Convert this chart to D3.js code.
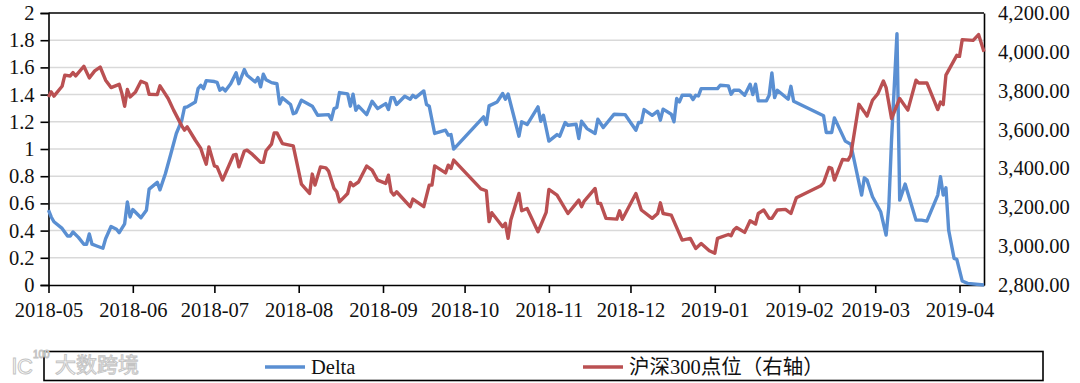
<!DOCTYPE html>
<html>
<head>
<meta charset="utf-8">
<script src="https://cdn.jsdelivr.net/npm/d3@7"></script>
<style>
  html, body { margin: 0; background: #fff; }
  svg { display: block; }
  text { font-family: "Liberation Serif", "Noto Sans CJK SC", serif; fill: #111; }
</style>
</head>
<body>
<svg id="chart" width="1080" height="383"></svg>
<script>
var startDate = "2018-05-01";
var endDay = 344;
var monthLabels = ["2018-05","2018-06","2018-07","2018-08","2018-09","2018-10","2018-11","2018-12","2019-01","2019-02","2019-03","2019-04"];
var leftTicks = [0,0.2,0.4,0.6,0.8,1,1.2,1.4,1.6,1.8,2];
var rightTicks = [2800,3000,3200,3400,3600,3800,4000,4200];
var legendNames = ["Delta","沪深300点位（右轴）"];

// days counted from startDate
var deltaDays = [0,1,2,5,7,8,9,11,13,14,15,16,18,20,21,23,25,26,28,29,30,31,32,34,36,37,40,41,43,45,47,49,50,51,54,55,56,57,58,61,62,63,64,65,67,69,70,72,73,76,77,78,79,80,82,84,85,86,89,90,91,93,97,99,103,104,105,106,107,110,111,112,113,114,117,119,121,124,125,126,127,128,131,133,134,135,138,139,140,142,146,147,148,149,160,161,162,165,167,168,169,173,174,176,180,181,182,184,187,188,190,191,194,195,196,198,201,202,204,208,212,216,217,218,219,222,224,225,226,229,230,231,232,233,236,237,238,239,240,246,247,250,251,252,254,256,258,259,260,261,264,265,266,267,268,272,273,274,285,286,288,289,293,295,299,300,301,303,306,308,309,310,312,313,315,319,321,323,327,328,329,330,331,333,334,336,338,344];
var deltaValues = [0.55,0.5,0.465,0.416,0.36,0.36,0.39,0.35,0.3,0.3,0.375,0.3,0.285,0.27,0.34,0.43,0.41,0.385,0.45,0.61,0.5,0.555,0.535,0.495,0.55,0.705,0.755,0.7,0.82,0.965,1.114,1.21,1.305,1.31,1.346,1.444,1.469,1.444,1.503,1.496,1.49,1.432,1.449,1.427,1.48,1.56,1.48,1.584,1.542,1.493,1.525,1.457,1.55,1.51,1.488,1.48,1.33,1.376,1.327,1.26,1.268,1.359,1.315,1.248,1.253,1.217,1.297,1.305,1.415,1.405,1.315,1.403,1.285,1.315,1.253,1.351,1.297,1.334,1.29,1.378,1.378,1.327,1.388,1.366,1.395,1.378,1.427,1.327,1.315,1.114,1.138,1.102,1.106,0.999,1.236,1.18,1.317,1.346,1.408,1.366,1.405,1.094,1.2,1.18,1.31,1.204,1.248,1.058,1.106,1.094,1.195,1.175,1.182,1.077,1.204,1.15,1.114,1.219,1.158,1.256,1.253,1.138,1.195,1.195,1.29,1.248,1.278,1.212,1.293,1.256,1.2,1.371,1.346,1.395,1.395,1.364,1.395,1.39,1.444,1.444,1.469,1.464,1.403,1.432,1.432,1.395,1.476,1.4,1.476,1.354,1.354,1.395,1.56,1.378,1.432,1.366,1.461,1.351,1.244,1.121,1.121,1.229,1.058,1.035,0.661,0.788,0.771,0.649,0.539,0.367,0.575,1.065,1.848,0.624,0.742,0.477,0.477,0.47,0.661,0.796,0.661,0.715,0.404,0.196,0.188,0.029,0.012,0];
var hs300Days = [0,1,2,5,6,8,9,10,13,15,17,19,21,23,26,27,28,29,30,32,34,36,37,40,41,44,46,49,50,51,54,56,57,58,59,61,62,64,68,69,70,72,73,75,78,79,80,82,83,84,86,90,93,96,97,98,100,102,103,105,106,107,110,111,112,114,117,119,121,124,125,126,127,128,133,134,138,140,141,142,146,147,148,149,159,161,162,163,167,168,169,170,173,174,176,180,183,184,187,191,195,196,197,201,202,203,205,209,210,211,216,218,222,224,225,226,229,233,236,238,240,243,245,246,250,251,252,253,256,258,260,261,263,265,266,268,271,273,275,284,285,287,288,289,292,294,295,298,300,301,303,305,307,308,310,313,316,319,320,323,327,328,329,330,334,335,336,340,342,344];
var hs300Values = [3768,3794,3772,3823,3880,3876,3893,3876,3926,3866,3902,3922,3854,3816,3833,3785,3720,3806,3768,3794,3849,3837,3782,3780,3825,3760,3700,3619,3597,3614,3545,3503,3460,3422,3511,3413,3408,3340,3468,3472,3408,3489,3494,3472,3431,3431,3491,3525,3583,3583,3528,3516,3319,3271,3371,3314,3408,3403,3386,3297,3280,3228,3271,3328,3311,3330,3412,3391,3340,3323,3365,3280,3263,3280,3203,3242,3203,3314,3314,3413,3377,3417,3400,3443,3295,3285,3126,3172,3100,3117,3040,3134,3271,3182,3194,3074,3174,3292,3263,3168,3237,3203,3232,3297,3220,3220,3143,3139,3182,3138,3271,3186,3143,3168,3223,3168,3160,3031,3040,2988,3014,2976,2963,3040,3060,3054,3083,3096,3071,3131,3114,3168,3186,3143,3143,3186,3189,3168,3249,3311,3326,3405,3400,3340,3446,3443,3468,3730,3691,3670,3751,3785,3850,3816,3657,3760,3700,3854,3840,3840,3703,3742,3729,3880,3982,3977,4063,4059,4089,4000];

var margin = {left: 48.5, right: 984, top: 13, bottom: 285};
var svg = d3.select("#chart");
var parseDay = d3.utcParse("%Y-%m-%d");
var parseMonth = d3.utcParse("%Y-%m");
var start = parseDay(startDate);

var x = d3.scaleUtc()
  .domain([start, d3.utcDay.offset(start, endDay)])
  .range([margin.left, margin.right]);
var yLeft = d3.scaleLinear().domain([0, 2]).range([margin.bottom, margin.top]);
var yRight = d3.scaleLinear().domain([2800, 4200]).range([margin.bottom, margin.top]);

/*Grid*/
svg.append("g")
  .selectAll("line")
  .data(leftTicks.filter(function(d){ return d > 0 && d < 2; }))
  .join("line")
  .attr("x1", margin.left)
  .attr("x2", margin.right)
  .attr("y1", function(d){ return yLeft(d); })
  .attr("y2", function(d){ return yLeft(d); })
  .attr("stroke", "#d9d9d9")
  .attr("stroke-width", 1.5);

/*Axes*/
var fs = "20.5px";
var xAxis = svg.append("g")
  .attr("transform", "translate(0," + margin.bottom + ")")
  .call(d3.axisBottom(x)
    .tickValues(monthLabels.map(parseMonth))
    .tickFormat(d3.utcFormat("%Y-%m"))
    .tickSize(8)
    .tickSizeOuter(0)
    .tickPadding(9));
var leftAxis = svg.append("g")
  .attr("transform", "translate(" + margin.left + ",0)")
  .call(d3.axisLeft(yLeft)
    .tickValues(leftTicks)
    .tickFormat(function(d){ return String(d); })
    .tickSize(8)
    .tickPadding(6));
var rightAxis = svg.append("g")
  .attr("transform", "translate(" + margin.right + ",0)")
  .call(d3.axisRight(yRight)
    .tickValues(rightTicks)
    .tickFormat(d3.format(",.2f"))
    .tickSize(0)
    .tickPadding(14));
[xAxis, leftAxis, rightAxis].forEach(function(a){
  a.selectAll("text").style("font-size", fs).style("font-family", null);
  a.attr("font-family", null);
  a.selectAll("path,line").attr("stroke", "#000").attr("stroke-width", 1.6);
});

// top edge of the frame
svg.append("line")
  .attr("x1", margin.left).attr("x2", margin.right)
  .attr("y1", margin.top).attr("y2", margin.top)
  .attr("stroke", "#000").attr("stroke-width", 1.6);

/*Lines*/
var deltaLine = d3.line()
  .x(function(d, i){ return x(d3.utcDay.offset(start, d)); })
  .y(function(d, i){ return yLeft(deltaValues[i]); });
var hs300Line = d3.line()
  .x(function(d, i){ return x(d3.utcDay.offset(start, d)); })
  .y(function(d, i){ return yRight(hs300Values[i]); });

svg.append("path")
  .attr("d", deltaLine(deltaDays))
  .attr("fill", "none")
  .attr("stroke", "#5a8fd2")
  .attr("stroke-width", 3.4)
  .attr("stroke-linejoin", "round");
svg.append("path")
  .attr("d", hs300Line(hs300Days))
  .attr("fill", "none")
  .attr("stroke", "#ba5052")
  .attr("stroke-width", 3.4)
  .attr("stroke-linejoin", "round");

/*Legend*/
svg.append("rect")
  .attr("x", 44).attr("y", 351.5)
  .attr("width", 999).attr("height", 29)
  .attr("fill", "#fff").attr("stroke", "#000").attr("stroke-width", 1.6);
var legendX = [265, 583];
var legendColors = ["#5a8fd2", "#ba5052"];
var legend = svg.append("g").selectAll("g")
  .data(legendNames)
  .join("g")
  .attr("transform", function(d, i){ return "translate(" + legendX[i] + ",367)"; });
legend.append("line")
  .attr("x2", 40)
  .attr("stroke", function(d, i){ return legendColors[i]; })
  .attr("stroke-width", 3.4);
legend.append("text")
  .attr("x", 46)
  .attr("dy", "0.33em")
  .style("font-size", "20.5px")
  .text(function(d){ return d; });

/*Watermark*/
var mark = svg.append("g")
  .attr("stroke", "#c4c4c4")
  .attr("stroke-width", 1);
mark.append("text")
  .attr("x", 12).attr("y", 374)
  .style("fill", "#fff")
  .style("font-size", "22px")
  .style("font-family", "'Liberation Sans'")
  .text("lC");
mark.append("text")
  .attr("x", 33).attr("y", 358)
  .style("fill", "#fff")
  .style("font-size", "10px")
  .style("font-family", "'Liberation Sans'")
  .text("100");
mark.append("text")
  .attr("x", 55).attr("y", 372)
  .style("fill", "#fff")
  .style("font-size", "21px")
  .style("font-family", "'Noto Sans CJK SC'")
  .text("大数跨境");
</script>
</body>
</html>
